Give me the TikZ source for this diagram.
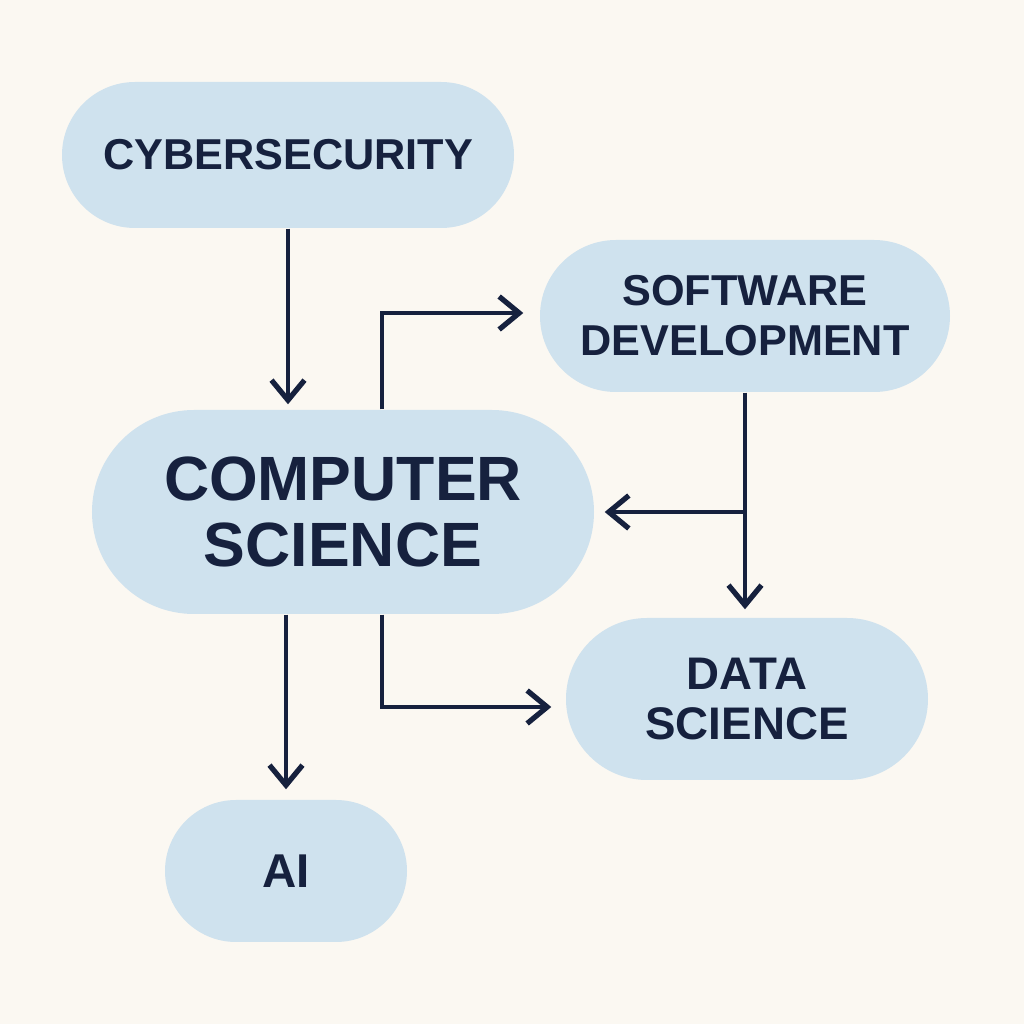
\documentclass[tikz,border=0pt]{standalone}
\usepackage{fontspec}
\setmainfont{Liberation Sans}
\usetikzlibrary{shapes.misc,arrows.meta}
\definecolor{paper}{HTML}{FBF8F2}
\definecolor{pillblue}{HTML}{CFE2EE}
\definecolor{ink}{HTML}{16213E}

\begin{document}
\begin{tikzpicture}[
pillnode/.style={rounded rectangle, fill=pillblue, text=ink, align=center, inner sep=0pt,
  font=\bfseries\fontsize{12.3}{14.2}\selectfont},
link/.style={draw=ink, line width=1pt, -{Straight Barb[length=2mm,width=3.3mm,line width=1.5pt]}},
]
\fill[paper] (0,0) rectangle (10.24,10.24);
\useasboundingbox (0,0) rectangle (10.24,10.24);

%Nodes
\node[pillnode, minimum width=4.52cm, minimum height=1.46cm] (Cyber)   at (2.88,8.69) {CYBERSECURITY};
\node[pillnode, minimum width=4.10cm, minimum height=1.52cm] (SoftDev) at (7.45,7.08) {SOFTWARE\\DEVELOPMENT};
\node[pillnode, minimum width=5.02cm, minimum height=2.04cm,
      font=\bfseries\fontsize{17.8}{18.8}\selectfont]          (CS)      at (3.43,5.12) {COMPUTER\\SCIENCE};
\node[pillnode, minimum width=3.62cm, minimum height=1.62cm,
      font=\bfseries\fontsize{13}{14.2}\selectfont]            (DataSci) at (7.47,3.25) {DATA\\SCIENCE};
\node[pillnode, minimum width=2.42cm, minimum height=1.42cm,
      font=\bfseries\fontsize{13.5}{14.2}\selectfont]          (AI)      at (2.86,1.53) {AI};

%Lines
\coordinate (split) at (SoftDev.south |- CS.east);
\draw[link] (Cyber.south) -- ([yshift=0.5mm]Cyber.south |- CS.north);
\draw[link] ([xshift=0.39cm]CS.north) |- ([xshift=-1.6mm,yshift=0.3mm]SoftDev.west);
\draw[link] (SoftDev.south) -- ([yshift=0.8mm]SoftDev.south |- DataSci.north);
\draw[link] (split) -- ([xshift=1mm]CS.east);
\draw[link] ([xshift=0.39cm]CS.south) |- ([xshift=-1.4mm,yshift=-0.8mm]DataSci.west);
\draw[link] (AI.north |- CS.south) -- ([yshift=1mm]AI.north);
\end{tikzpicture}
\end{document}
